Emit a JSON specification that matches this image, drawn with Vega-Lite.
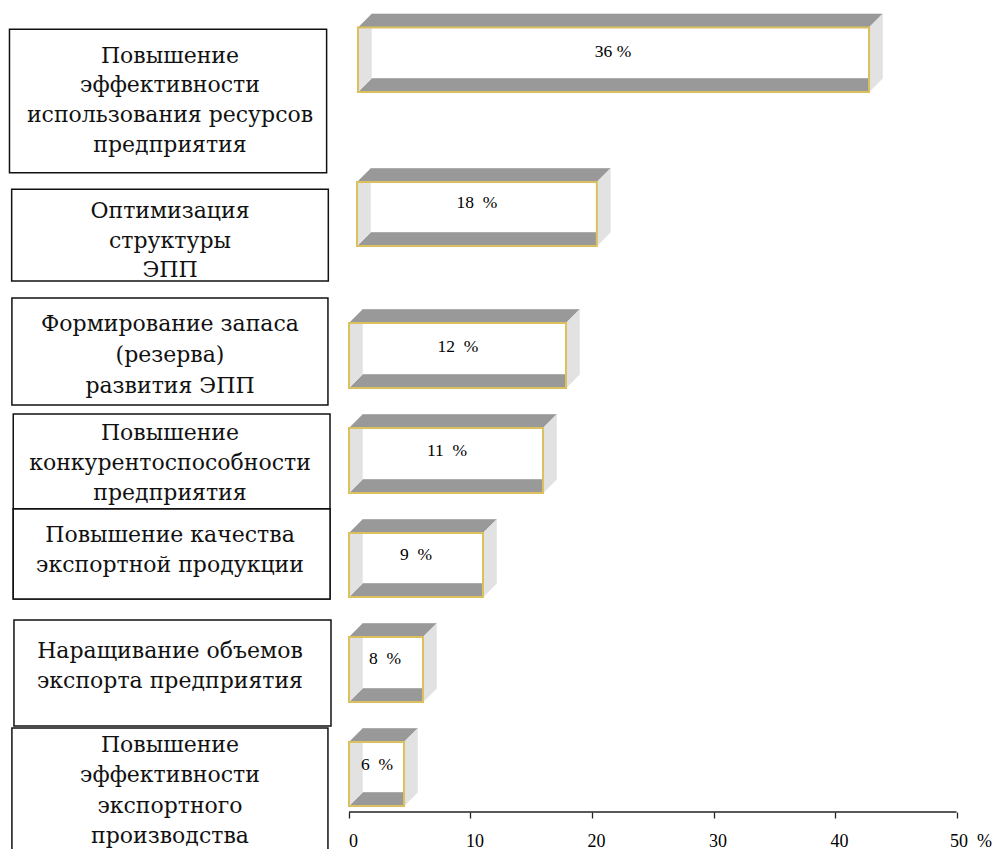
{
"$schema": "https://vega.github.io/schema/vega-lite/v6.json",
"autosize": "none",
"width": 992, "height": 812,
"padding": {"left": 0, "top": 0, "right": 0, "bottom": 37},
"background": "white",
"config": {"view": {"stroke": null}},
"datasets": {
"boxes": [
{"id":1,"x":-27.94,"xe":-1.84,"y":29.3,"ye":172.7},
{"id":2,"x":-27.76,"xe":-1.70,"y":189.3,"ye":281},
{"id":3,"x":-27.74,"xe":-1.73,"y":298,"ye":405},
{"id":4,"x":-27.63,"xe":-1.56,"y":414,"ye":509},
{"id":5,"x":-27.63,"xe":-1.56,"y":509,"ye":599},
{"id":6,"x":-27.57,"xe":-1.48,"y":620,"ye":726},
{"id":7,"x":-27.74,"xe":-1.73,"y":728,"ye":870}
],
"boxtext": [
{"id":1,"x":-14.73,"y":63,"text":"Повышение"},
{"id":1,"x":-14.73,"y":92,"text":"эффективности"},
{"id":1,"x":-14.73,"y":122,"text":"использования ресурсов"},
{"id":1,"x":-14.73,"y":152,"text":"предприятия"},
{"id":2,"x":-14.73,"y":218,"text":"Оптимизация"},
{"id":2,"x":-14.73,"y":248,"text":"структуры"},
{"id":2,"x":-14.73,"y":277,"text":"ЭПП"},
{"id":3,"x":-14.73,"y":331,"text":"Формирование запаса"},
{"id":3,"x":-14.73,"y":362,"text":"(резерва)"},
{"id":3,"x":-14.73,"y":393,"text":"развития ЭПП"},
{"id":4,"x":-14.73,"y":440,"text":"Повышение"},
{"id":4,"x":-14.73,"y":470,"text":"конкурентоспособности"},
{"id":4,"x":-14.73,"y":500,"text":"предприятия"},
{"id":5,"x":-14.73,"y":542,"text":"Повышение качества"},
{"id":5,"x":-14.73,"y":572,"text":"экспортной продукции"},
{"id":6,"x":-14.73,"y":658,"text":"Наращивание объемов"},
{"id":6,"x":-14.73,"y":688,"text":"экспорта предприятия"},
{"id":7,"x":-14.73,"y":752,"text":"Повышение"},
{"id":7,"x":-14.73,"y":782,"text":"эффективности"},
{"id":7,"x":-14.73,"y":813,"text":"экспортного"},
{"id":7,"x":-14.73,"y":843,"text":"производства"}
],
"fronts": [
{"bar":1,"x":0.74,"xe":42.8,"y":27.5,"ye":92},
{"bar":2,"x":0.66,"xe":20.4,"y":182,"ye":246},
{"bar":3,"x":0,"xe":17.86,"y":323,"ye":388},
{"bar":4,"x":0,"xe":15.97,"y":428,"ye":493},
{"bar":5,"x":0,"xe":11.03,"y":533,"ye":597},
{"bar":6,"x":0,"xe":6.09,"y":637,"ye":702},
{"bar":7,"x":0,"xe":4.53,"y":742,"ye":806}
],
"barlabels": [
{"x":21.73,"y":52,"text":"36 %"},
{"x":10.53,"y":203,"text":"18\u00a0\u00a0%"},
{"x":8.97,"y":347,"text":"12\u00a0\u00a0%"},
{"x":8.07,"y":451,"text":"11\u00a0\u00a0%"},
{"x":5.51,"y":555,"text":"9\u00a0\u00a0%"},
{"x":2.96,"y":659,"text":"8\u00a0\u00a0%"},
{"x":2.30,"y":765,"text":"6\u00a0\u00a0%"}
],
"axisline": [{"x":0,"xe":50,"y":812}],
"verts": [
{"p":"1t","f":"g","i":0,"x":0.74,"y":27.5},{"p":"1t","f":"g","i":1,"x":42.8,"y":27.5},{"p":"1t","f":"g","i":2,"x":43.91,"y":14},{"p":"1t","f":"g","i":3,"x":1.85,"y":14},
{"p":"1f","f":"g","i":0,"x":0.74,"y":92},{"p":"1f","f":"g","i":1,"x":42.8,"y":92},{"p":"1f","f":"g","i":2,"x":42.8,"y":78.5},{"p":"1f","f":"g","i":3,"x":1.85,"y":78.5},
{"p":"1r","f":"l","i":0,"x":42.8,"y":27.5},{"p":"1r","f":"l","i":1,"x":43.91,"y":14},{"p":"1r","f":"l","i":2,"x":43.91,"y":78.5},{"p":"1r","f":"l","i":3,"x":42.8,"y":92},
{"p":"1w","f":"l","i":0,"x":0.74,"y":27.5},{"p":"1w","f":"l","i":1,"x":1.85,"y":27.5},{"p":"1w","f":"l","i":2,"x":1.85,"y":78.5},{"p":"1w","f":"l","i":3,"x":0.74,"y":92},

{"p":"2t","f":"g","i":0,"x":0.66,"y":182},{"p":"2t","f":"g","i":1,"x":20.4,"y":182},{"p":"2t","f":"g","i":2,"x":21.51,"y":168.5},{"p":"2t","f":"g","i":3,"x":1.77,"y":168.5},
{"p":"2f","f":"g","i":0,"x":0.66,"y":246},{"p":"2f","f":"g","i":1,"x":20.4,"y":246},{"p":"2f","f":"g","i":2,"x":20.4,"y":232.5},{"p":"2f","f":"g","i":3,"x":1.77,"y":232.5},
{"p":"2r","f":"l","i":0,"x":20.4,"y":182},{"p":"2r","f":"l","i":1,"x":21.51,"y":168.5},{"p":"2r","f":"l","i":2,"x":21.51,"y":232.5},{"p":"2r","f":"l","i":3,"x":20.4,"y":246},
{"p":"2w","f":"l","i":0,"x":0.66,"y":182},{"p":"2w","f":"l","i":1,"x":1.77,"y":182},{"p":"2w","f":"l","i":2,"x":1.77,"y":232.5},{"p":"2w","f":"l","i":3,"x":0.66,"y":246},

{"p":"3t","f":"g","i":0,"x":0,"y":323},{"p":"3t","f":"g","i":1,"x":17.86,"y":323},{"p":"3t","f":"g","i":2,"x":18.97,"y":309.5},{"p":"3t","f":"g","i":3,"x":1.11,"y":309.5},
{"p":"3f","f":"g","i":0,"x":0,"y":388},{"p":"3f","f":"g","i":1,"x":17.86,"y":388},{"p":"3f","f":"g","i":2,"x":17.86,"y":374.5},{"p":"3f","f":"g","i":3,"x":1.11,"y":374.5},
{"p":"3r","f":"l","i":0,"x":17.86,"y":323},{"p":"3r","f":"l","i":1,"x":18.97,"y":309.5},{"p":"3r","f":"l","i":2,"x":18.97,"y":374.5},{"p":"3r","f":"l","i":3,"x":17.86,"y":388},
{"p":"3w","f":"l","i":0,"x":0,"y":323},{"p":"3w","f":"l","i":1,"x":1.11,"y":323},{"p":"3w","f":"l","i":2,"x":1.11,"y":374.5},{"p":"3w","f":"l","i":3,"x":0,"y":388},

{"p":"4t","f":"g","i":0,"x":0,"y":428},{"p":"4t","f":"g","i":1,"x":15.97,"y":428},{"p":"4t","f":"g","i":2,"x":17.08,"y":414.5},{"p":"4t","f":"g","i":3,"x":1.11,"y":414.5},
{"p":"4f","f":"g","i":0,"x":0,"y":493},{"p":"4f","f":"g","i":1,"x":15.97,"y":493},{"p":"4f","f":"g","i":2,"x":15.97,"y":479.5},{"p":"4f","f":"g","i":3,"x":1.11,"y":479.5},
{"p":"4r","f":"l","i":0,"x":15.97,"y":428},{"p":"4r","f":"l","i":1,"x":17.08,"y":414.5},{"p":"4r","f":"l","i":2,"x":17.08,"y":479.5},{"p":"4r","f":"l","i":3,"x":15.97,"y":493},
{"p":"4w","f":"l","i":0,"x":0,"y":428},{"p":"4w","f":"l","i":1,"x":1.11,"y":428},{"p":"4w","f":"l","i":2,"x":1.11,"y":479.5},{"p":"4w","f":"l","i":3,"x":0,"y":493},

{"p":"5t","f":"g","i":0,"x":0,"y":533},{"p":"5t","f":"g","i":1,"x":11.03,"y":533},{"p":"5t","f":"g","i":2,"x":12.14,"y":519.5},{"p":"5t","f":"g","i":3,"x":1.11,"y":519.5},
{"p":"5f","f":"g","i":0,"x":0,"y":597},{"p":"5f","f":"g","i":1,"x":11.03,"y":597},{"p":"5f","f":"g","i":2,"x":11.03,"y":583.5},{"p":"5f","f":"g","i":3,"x":1.11,"y":583.5},
{"p":"5r","f":"l","i":0,"x":11.03,"y":533},{"p":"5r","f":"l","i":1,"x":12.14,"y":519.5},{"p":"5r","f":"l","i":2,"x":12.14,"y":583.5},{"p":"5r","f":"l","i":3,"x":11.03,"y":597},
{"p":"5w","f":"l","i":0,"x":0,"y":533},{"p":"5w","f":"l","i":1,"x":1.11,"y":533},{"p":"5w","f":"l","i":2,"x":1.11,"y":583.5},{"p":"5w","f":"l","i":3,"x":0,"y":597},

{"p":"6t","f":"g","i":0,"x":0,"y":637},{"p":"6t","f":"g","i":1,"x":6.09,"y":637},{"p":"6t","f":"g","i":2,"x":7.2,"y":623.5},{"p":"6t","f":"g","i":3,"x":1.11,"y":623.5},
{"p":"6f","f":"g","i":0,"x":0,"y":702},{"p":"6f","f":"g","i":1,"x":6.09,"y":702},{"p":"6f","f":"g","i":2,"x":6.09,"y":688.5},{"p":"6f","f":"g","i":3,"x":1.11,"y":688.5},
{"p":"6r","f":"l","i":0,"x":6.09,"y":637},{"p":"6r","f":"l","i":1,"x":7.2,"y":623.5},{"p":"6r","f":"l","i":2,"x":7.2,"y":688.5},{"p":"6r","f":"l","i":3,"x":6.09,"y":702},
{"p":"6w","f":"l","i":0,"x":0,"y":637},{"p":"6w","f":"l","i":1,"x":1.11,"y":637},{"p":"6w","f":"l","i":2,"x":1.11,"y":688.5},{"p":"6w","f":"l","i":3,"x":0,"y":702},

{"p":"7t","f":"g","i":0,"x":0,"y":742},{"p":"7t","f":"g","i":1,"x":4.53,"y":742},{"p":"7t","f":"g","i":2,"x":5.64,"y":728.5},{"p":"7t","f":"g","i":3,"x":1.11,"y":728.5},
{"p":"7f","f":"g","i":0,"x":0,"y":806},{"p":"7f","f":"g","i":1,"x":4.53,"y":806},{"p":"7f","f":"g","i":2,"x":4.53,"y":792.5},{"p":"7f","f":"g","i":3,"x":1.11,"y":792.5},
{"p":"7r","f":"l","i":0,"x":4.53,"y":742},{"p":"7r","f":"l","i":1,"x":5.64,"y":728.5},{"p":"7r","f":"l","i":2,"x":5.64,"y":792.5},{"p":"7r","f":"l","i":3,"x":4.53,"y":806},
{"p":"7w","f":"l","i":0,"x":0,"y":742},{"p":"7w","f":"l","i":1,"x":1.11,"y":742},{"p":"7w","f":"l","i":2,"x":1.11,"y":792.5},{"p":"7w","f":"l","i":3,"x":0,"y":806}
]
},
"encoding": {
"x": {"field": "x", "type": "quantitative",
 "scale": {"domain": [-28.72, 52.92], "nice": false, "zero": false},
 "axis": {"values": [0,10,20,30,40,50], "domain": false, "grid": false, "ticks": true, "tickSize": 6, "tickColor": "#222", "tickWidth": 1.3,
  "labelFont": "Liberation Serif", "labelFontSize": 18, "labelColor": "#000", "labelPadding": 14,
  "labelOffset": {"condition": {"test": "datum.value == 50", "value": 14}, "value": 4},
  "labelExpr": "datum.value == 50 ? '50\u00a0\u00a0%' : datum.label",
  "labelFlush": false, "labelOverlap": false, "labelBound": false, "title": null}},
"y": {"field": "y", "type": "quantitative", "scale": {"domain": [0, 812], "reverse": true, "nice": false, "zero": false}, "axis": null}
},
"layer": [
{"data": {"name": "boxes"}, "mark": {"type": "rect", "fill": "white", "stroke": "#111", "strokeWidth": 1.5},
 "encoding": {"x2": {"field": "xe"}, "y2": {"field": "ye"}}},
{"data": {"name": "boxtext"}, "mark": {"type": "text", "font": "DejaVu Serif", "fontSize": 22, "color": "#111", "align": "center", "baseline": "alphabetic"},
 "encoding": {"text": {"field": "text"}}},
{"data": {"name": "boxes"}, "transform": [{"filter": "datum.id == 5"}], "mark": {"type": "rect", "fill": "white", "stroke": "#111", "strokeWidth": 1.5},
 "encoding": {"x2": {"field": "xe"}, "y2": {"field": "ye"}}},
{"data": {"name": "boxtext"}, "transform": [{"filter": "datum.id == 5"}], "mark": {"type": "text", "font": "DejaVu Serif", "fontSize": 22, "color": "#111", "align": "center", "baseline": "alphabetic"},
 "encoding": {"text": {"field": "text"}}},
{"data": {"name": "fronts"}, "mark": {"type": "rect", "fill": "white", "strokeWidth": 0},
 "encoding": {"x2": {"field": "xe"}, "y2": {"field": "ye"}}},
{"data": {"name": "verts"}, "transform": [{"filter": "datum.f == 'g'"}],
 "mark": {"type": "line", "fill": "#999999", "stroke": "#999999", "strokeWidth": 0.6},
 "encoding": {"detail": {"field": "p"}, "order": {"field": "i", "type": "quantitative"}}},
{"data": {"name": "verts"}, "transform": [{"filter": "datum.f == 'l'"}],
 "mark": {"type": "line", "fill": "#e2e2e2", "stroke": "#e2e2e2", "strokeWidth": 0.6},
 "encoding": {"detail": {"field": "p"}, "order": {"field": "i", "type": "quantitative"}}},
{"data": {"name": "fronts"}, "mark": {"type": "rect", "filled": false, "stroke": "#dcc05e", "strokeWidth": 2},
 "encoding": {"x2": {"field": "xe"}, "y2": {"field": "ye"}}},
{"data": {"name": "barlabels"}, "mark": {"type": "text", "font": "Liberation Serif", "fontSize": 17.5, "color": "#000", "align": "center", "baseline": "middle"},
 "encoding": {"text": {"field": "text"}}},
{"data": {"name": "axisline"}, "mark": {"type": "rule", "stroke": "#222", "strokeWidth": 1.3},
 "encoding": {"x2": {"field": "xe"}}}
]
}
